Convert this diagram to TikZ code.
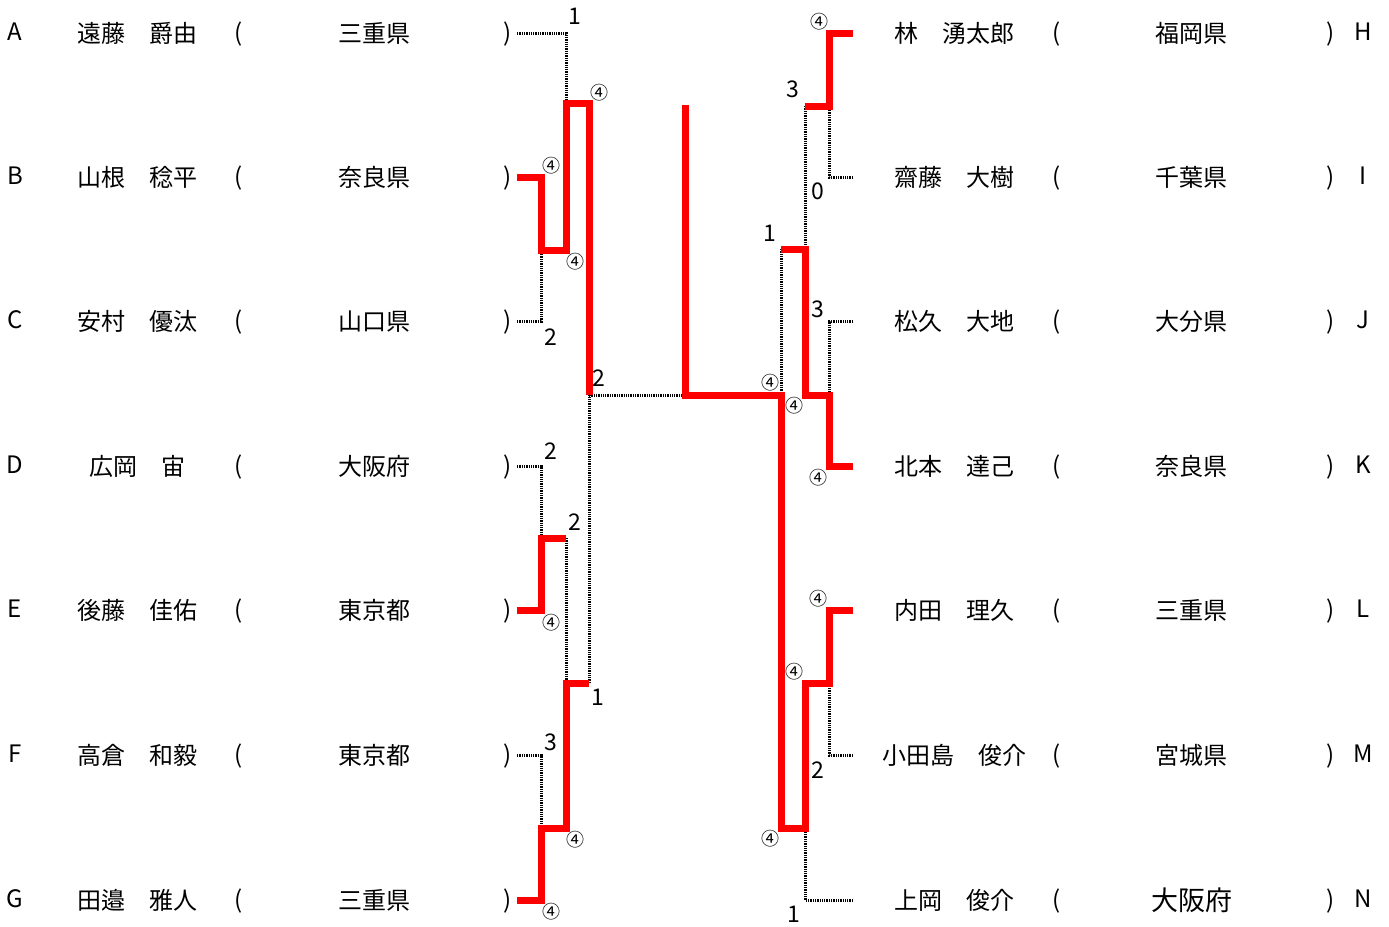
\documentclass[tikz,border=0pt]{standalone}
\usepackage{fontspec}
\setmainfont{Noto Sans CJK JP}
\begin{document}
\begin{tikzpicture}[x=1pt,y=-1pt,
  cjk/.style={anchor=base, inner sep=0pt, font=\fontsize{24}{26}\selectfont},
  bigcjk/.style={anchor=base, inner sep=0pt, font=\fontsize{27}{30}\selectfont},
  num/.style={anchor=base, inner sep=0pt, font=\fontsize{23}{26}\selectfont},
  circ/.style={anchor=base, inner sep=0pt, font=\fontsize{18}{20}\selectfont},
  win/.style={draw=red, line width=7pt},
  lose/.style={draw=black, line width=3pt, dash pattern=on 1.3pt off 1pt}]
\useasboundingbox (0,0) rectangle (1389,926);

% ---- left entries ----
\foreach \r/\y/\nm/\pf in {A/33/遠藤　爵由/三重県, B/177/山根　稔平/奈良県, C/321/安村　優汰/山口県,
  D/466/広岡　宙/大阪府, E/610/後藤　佳佑/東京都, F/755/高倉　和毅/東京都, G/900/田邉　雅人/三重県}{
  \node[cjk] (let\r) at (15,{\y+7}) {\r};
  \node[cjk] (name\r) at (137,{\y+9}) {\nm};
  \node[cjk] (op\r) at (239,{\y+8}) {(};
  \node[cjk] (pref\r) at (374,{\y+9}) {\pf};
  \node[cjk] (cp\r) at (508,{\y+8}) {)};
  \coordinate (e\r) at (517,\y);
}
% ---- right entries ----
\foreach \r/\y/\nm/\pf in {H/33/林　湧太郎/福岡県, I/177/齋藤　大樹/千葉県, J/321/松久　大地/大分県,
  K/466/北本　達己/奈良県, L/610/内田　理久/三重県, M/755/小田島　俊介/宮城県}{
  \node[cjk] (name\r) at (954,{\y+9}) {\nm};
  \node[cjk] (op\r) at (1057,{\y+8}) {(};
  \node[cjk] (pref\r) at (1191,{\y+9}) {\pf};
  \node[cjk] (cp\r) at (1331,{\y+8}) {)};
  \node[cjk] (let\r) at (1363,{\y+7}) {\r};
  \coordinate (e\r) at (853,\y);
}
\node[cjk] (nameN) at (954,909) {上岡　俊介};
\node[cjk] (opN) at (1057,908) {(};
\node[bigcjk] (prefN) at (1192,910) {大阪府};
\node[cjk] (cpN) at (1331,908) {)};
\node[cjk] (letN) at (1363,907) {N};
\coordinate (eN) at (853,900);

% ---- junctions ----
\coordinate (mBC) at (541,250);
\coordinate (mABC) at (566,103);
\coordinate (mDE) at (541,538);
\coordinate (mFG) at (541,828);
\coordinate (mDEFG) at (566,683);
\coordinate (sL) at (589,395);
\coordinate (fin) at (685,395);
\coordinate (champ) at (685,105);
\coordinate (mHI) at (829,106);
\coordinate (mJK) at (829,395);
\coordinate (mHJK) at (805,249);
\coordinate (mLM) at (829,683);
\coordinate (mLMN) at (805,828);
\coordinate (sR) at (781,395);

% ---- losing (dotted) lines ----
\draw[lose] (eA) -| (mABC);
\draw[lose] (eC) -| (mBC);
\draw[lose] (eD) -| (mDE);
\draw[lose] (eF) -| (mFG);
\draw[lose] (mDE -| mABC) -- (mDEFG);
\draw[lose] (mDEFG -| sL) -- (sL);
\draw[lose] (sL) -- (fin);
\draw[lose] (eI) -| (mHI);
\draw[lose] (mHI -| mHJK) -- (mHJK);
\draw[lose] (eJ) -| (mJK);
\draw[lose] (mHJK -| sR) -- (sR);
\draw[lose] (eM) -| (mLM);
\draw[lose] (eN) -| (mLMN);

% ---- winning (red) lines ----
\draw[win] (eB) -| (mBC) -- (mBC -| mABC) -- (mABC) -- (mABC -| sL) -- (sL);
\draw[win] (eE) -| (mDE) -- (mDE -| mABC);
\draw[win] (eG) -| (mFG) -- (mFG -| mDEFG) -- (mDEFG) -- (mDEFG -| sL);
\draw[win] (eH) -| (mHI) -- (mHI -| mHJK);
\draw[win] (eK) -| (mJK) -- (mJK -| mHJK) -- (mHJK) -- (mHJK -| sR);
\draw[win] (eL) -| (mLM) -- (mLM -| mLMN) -- (mLMN) -- (mLMN -| sR) -- (sR) -- (fin) -- (champ);

% ---- score labels ----
\node[num] (s1) at (575,24.5) {1};
\node[circ] (c1) at (599,99) {④};
\node[circ] (c2) at (551,172) {④};
\node[circ] (c3) at (575,268) {④};
\node[num] (s2) at (551,345) {2};
\node[num] (s3) at (599,386) {2};
\node[num] (s4) at (551,459.5) {2};
\node[num] (s5) at (575,530.5) {2};
\node[circ] (c4) at (551,629) {④};
\node[num] (s6) at (598,705.5) {1};
\node[num] (s7) at (551,750) {3};
\node[circ] (c5) at (575,846) {④};
\node[circ] (c6) at (551,918) {④};

\node[circ] (c7) at (819,28) {④};
\node[num] (s8) at (793,97) {3};
\node[num] (s9) at (818,199.5) {0};
\node[num] (s10) at (770,241.5) {1};
\node[num] (s11) at (818,317) {3};
\node[circ] (c8) at (770,389) {④};
\node[circ] (c9) at (794,412) {④};
\node[circ] (c10) at (818,484) {④};
\node[circ] (c11) at (818,605) {④};
\node[circ] (c12) at (794,678) {④};
\node[num] (s12) at (818,778.5) {2};
\node[circ] (c13) at (770,845) {④};
\node[num] (s13) at (794,922.5) {1};
\end{tikzpicture}
\end{document}
